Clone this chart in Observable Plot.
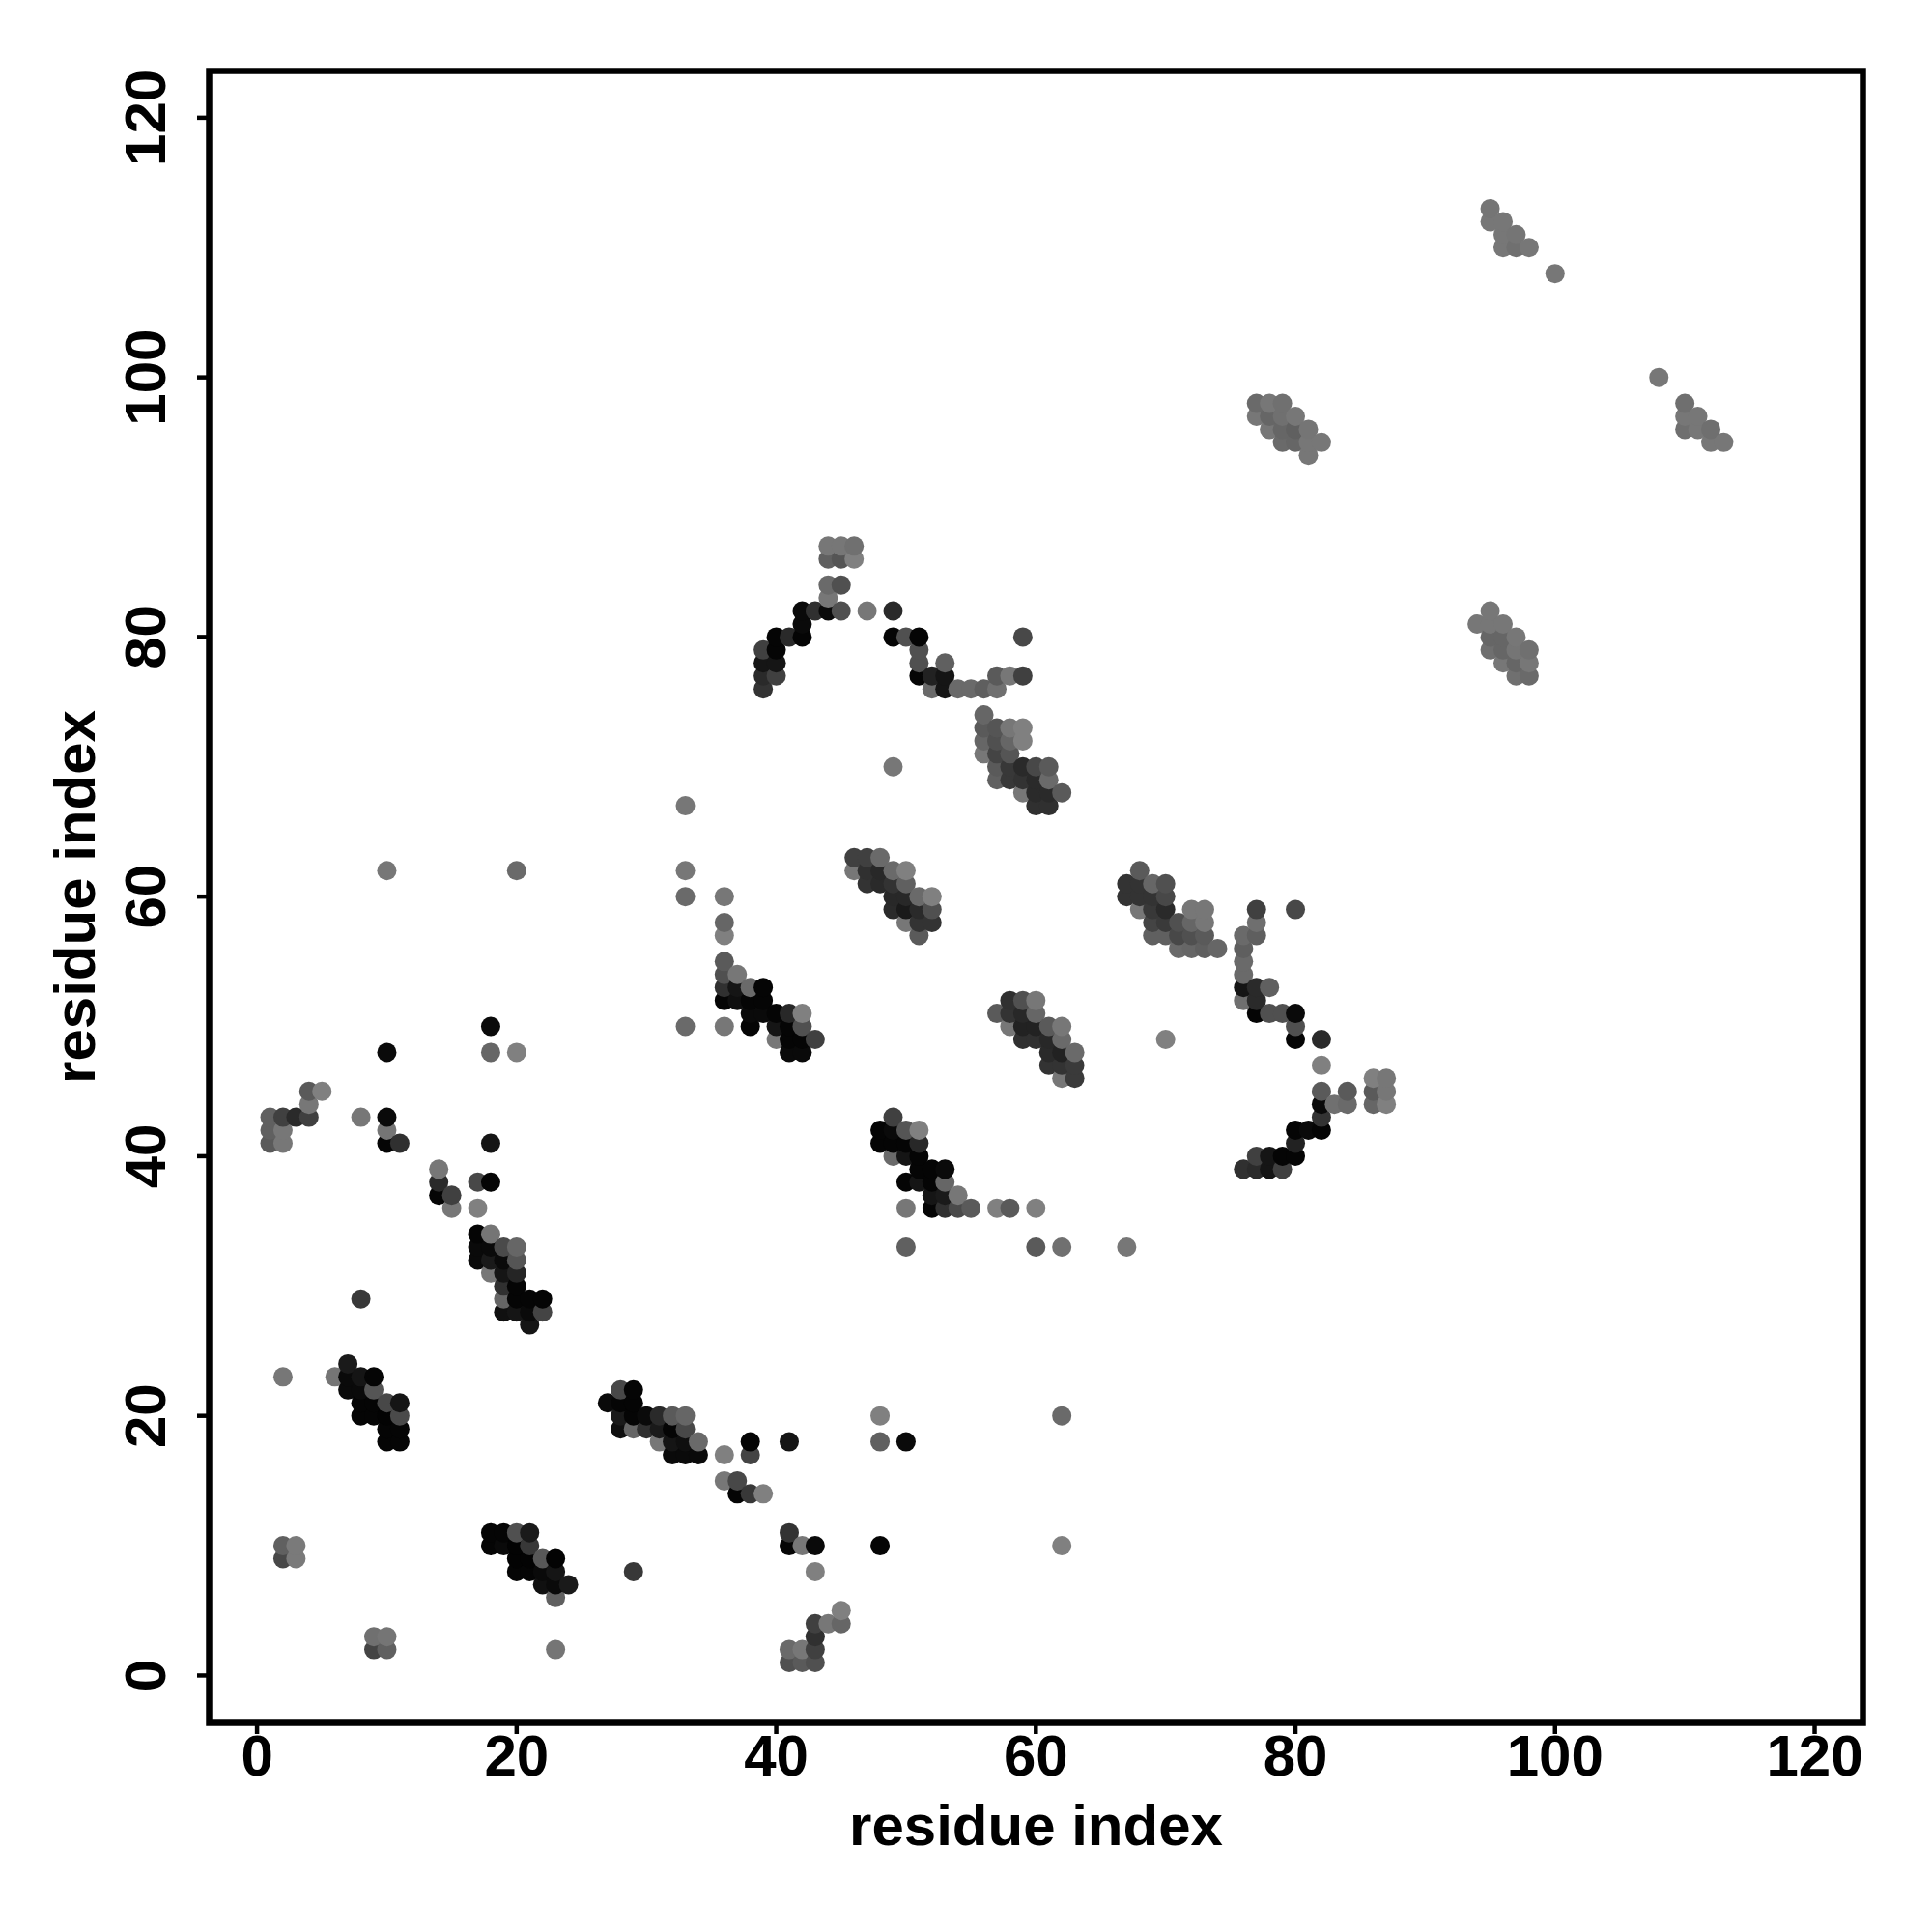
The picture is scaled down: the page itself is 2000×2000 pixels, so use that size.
<!DOCTYPE html>
<html>
<head>
<meta charset="utf-8">
<script src="https://cdn.jsdelivr.net/npm/d3@7"></script>
<script src="https://cdn.jsdelivr.net/npm/@observablehq/plot@0.6"></script>
<style>
html,body{margin:0;padding:0;background:#fff}
svg{display:block}
</style>
</head>
<body>
<div id="chart"></div>
<script>
// Each entry: [residue i, residue j, grey level 0-128]
const isolated = [
 [2,23,119],[8,29,56],[10,48,10],[18,50,10],[18,48,102],[20,48,128],[8,43,119],[10,43,10],[10,42,117],[10,41,5],[11,41,48],[18,41,21],
 [23,2,117],[29,8,56],[10,62,119],[20,62,106],[33,67,119],[33,62,119],[33,60,106],[36,60,119],[36,58,102],[36,57,128],[33,50,106],[36,50,119],
 [48,20,128],[62,20,106],[38,18,5],[41,18,21],[48,18,96],[50,18,10],[38,17,68],[36,17,128],
 [41,11,51],[41,10,5],[42,10,119],[43,10,10],[48,10,5],[62,10,128],[43,8,128],
 [50,33,96],[60,33,90],[62,33,112],[67,33,119],[50,36,119],[57,36,128],[58,36,90],[60,36,128],
 [49,70,119],[70,49,128],[59,80,72],[80,59,72],[108,100,119],[100,108,119]
];
const blockA = [
 [9,2,68],[10,2,96],[9,3,112],[10,3,117],[2,9,72],[2,10,96],[3,9,122],[3,10,122],
 [1,43,96],[2,43,64],[3,43,42],[4,43,64],[1,42,96],[2,42,119],[1,41,90],[2,41,119],[4,45,90],[5,45,128],[4,44,119],
 [14,39,119],[14,38,42],[17,38,72],[18,38,5],[14,37,5],[15,37,64],[15,36,119],[17,36,128]
];
const blockB = [
 [18,11,5],[19,11,5],[20,11,80],[21,11,26],[18,10,5],[19,10,10],[20,10,3],[21,10,56],
 [20,9,3],[21,9,3],[22,9,88],[23,9,3],[20,8,5],[21,8,5],[22,8,10],[23,8,21],
 [22,7,16],[23,7,10],[24,7,26],[23,6,96]
];
const blockC = [
 [7,24,26],[6,23,117],[7,23,10],[8,23,21],[9,23,5],[7,22,10],[8,22,10],[9,22,85],
 [8,21,5],[9,21,5],[10,21,72],[11,21,21],[8,20,5],[9,20,5],[10,20,3],[11,20,74],
 [10,19,5],[11,19,5],[10,18,5],[11,18,5]
];
const blockD = [
 [17,34,5],[18,34,117],[17,33,10],[18,33,10],[19,33,74],[20,33,102],
 [17,32,10],[18,32,26],[19,32,10],[20,32,85],[18,31,119],[19,31,21],[20,31,37],
 [19,30,48],[20,30,5],[19,29,102],[20,29,5],[21,29,5],[22,29,5],
 [19,28,16],[20,28,21],[21,28,10],[22,28,68],[21,27,21]
];
const blockE = [
 [28,22,72],[29,22,5],[27,21,10],[28,21,5],[29,21,5],
 [28,20,26],[29,20,5],[30,20,10],[31,20,42],[32,20,90],[33,20,102],
 [28,19,15],[29,19,102],[30,19,48],[31,19,26],[32,19,5],[33,19,72],
 [31,18,119],[32,18,21],[33,18,15],[34,18,106],[32,17,10],[33,17,10],[34,17,10],
 [36,15,119],[37,15,72],[37,14,5],[38,14,56],[39,14,128]
];
const blockF = [
 [45,5,128],[43,4,64],[44,4,119],[45,4,102],[43,3,48],[41,2,106],[42,2,119],[43,2,64],[41,1,80],[42,1,90],[43,1,80]
];
const blockG = [
 [36,55,90],[36,54,80],[37,54,119],[36,53,48],[37,53,21],[38,53,106],[39,53,5],
 [36,52,5],[37,52,15],[38,52,5],[39,52,5],[38,51,10],[39,51,10],[40,51,5],[41,51,40],[42,51,128],
 [38,50,5],[40,50,21],[41,50,5],[42,50,80],[40,49,119],[41,49,5],[42,49,5],[43,49,64],[41,48,10],[42,48,10]
];
const blockH = [
 [49,43,64],[48,42,5],[49,42,10],[50,42,85],[51,42,128],[48,41,5],[49,41,5],[50,41,5],[51,41,40],
 [49,40,106],[50,40,21],[51,40,5],[51,39,5],[52,39,5],[53,39,10],[50,38,5],[51,38,21],[52,38,5],[53,38,102],
 [52,37,21],[53,37,26],[54,37,119],[52,36,5],[53,36,48],[54,36,74],[55,36,90]
];
const blockI = [
 [46,63,64],[47,63,64],[48,63,106],[46,62,119],[47,62,48],[48,62,40],[49,62,106],[50,62,128],
 [47,61,51],[48,61,42],[49,61,51],[50,61,96],[49,60,40],[50,60,40],[51,60,106],[52,60,128],
 [49,59,42],[50,59,26],[51,59,42],[52,59,80],[50,58,119],[51,58,51],[52,58,51],[51,57,90]
];
const blockJ = [
 [58,52,48],[59,52,80],[60,52,119],[57,51,90],[58,51,51],[59,51,40],[60,51,102],
 [58,50,119],[59,50,34],[60,50,34],[61,50,90],[62,50,119],[59,49,48],[60,49,48],[61,49,40],[62,49,106],
 [61,48,42],[62,48,34],[63,48,106],[61,47,51],[62,47,51],[63,47,58],[62,46,119],[63,46,58]
];
const blockK = [
 [44,87,119],[45,87,119],[46,87,112],[44,86,96],[45,86,85],[46,86,128],[44,84,106],[45,84,80],[44,83,119],
 [42,82,10],[43,82,48],[44,82,10],[45,82,80],[47,82,119],[49,82,42],[42,81,10],
 [40,80,5],[41,80,42],[42,80,5],[39,79,64],[40,79,5],[39,78,21],[40,78,21],[39,77,42],[40,77,64],[39,76,51],
 [49,80,5],[50,80,80],[51,80,5],[51,79,80],[51,78,80],[53,78,96],[51,77,5],[52,77,34],[53,77,21],
 [57,77,90],[58,77,119],[59,77,64],[52,76,106],[53,76,21],[54,76,106],[55,76,106],[56,76,95],[57,76,112]
];
const blockL = [
 [56,74,102],[56,73,90],[57,73,85],[58,73,119],[59,73,128],[56,72,102],[57,72,80],[58,72,102],[59,72,128],
 [56,71,119],[57,71,68],[58,71,85],[57,70,90],[58,70,56],[59,70,42],[60,70,72],[61,70,90],
 [57,69,96],[58,69,56],[59,69,51],[60,69,42],[61,69,106],[59,68,119],[60,68,42],[61,68,42],[62,68,90],[60,67,48],[61,67,48]
];
const blockM = [
 [68,62,90],[67,61,51],[68,61,51],[69,61,102],[70,61,80],[67,60,51],[68,60,51],[69,60,51],[70,60,72],
 [68,59,119],[69,59,56],[70,59,42],[72,59,119],[73,59,119],[69,58,68],[70,58,58],[71,58,80],[72,58,102],[73,58,119],
 [69,57,96],[70,57,96],[71,57,72],[72,57,80],[73,57,90],[71,56,106],[72,56,102],[73,56,95],[74,56,102]
];
const blockN = [
 [77,59,64],[77,58,111],[76,57,106],[77,57,95],[76,56,95],[76,55,106],[76,54,106],
 [76,53,21],[77,53,42],[78,53,96],[76,52,111],[77,52,42],[77,51,5],[78,51,80],[79,51,80],[80,51,10],
 [80,50,80],[80,49,5],[82,49,42],[82,47,128],[86,46,128],[87,46,119],[82,45,90],[84,45,90],[86,45,90],[87,45,119],
 [82,44,10],[83,44,112],[84,44,106],[86,44,102],[87,44,128],[82,43,51],[80,42,5],[81,42,10],[82,42,5],[80,41,34],
 [77,40,64],[78,40,21],[79,40,5],[80,40,5],[76,39,48],[77,39,42],[78,39,21],[79,39,64]
];
const blockO = [
 [77,98,106],[78,98,119],[79,98,112],[77,97,119],[78,97,102],[79,97,112],[80,97,119],
 [78,96,119],[79,96,102],[80,96,96],[81,96,117],[79,95,106],[80,95,102],[81,95,119],[82,95,119],[81,94,119]
];
const blockP = [
 [110,98,111],[110,97,119],[111,97,119],[110,96,111],[111,96,119],[112,96,111],[112,95,119],[113,95,119]
];
const blockQ = [
 [95,82,119],[94,81,119],[95,81,119],[96,81,119],[95,80,102],[96,80,102],[97,80,119],
 [95,79,111],[96,79,102],[97,79,117],[98,79,112],[96,78,119],[97,78,102],[98,78,119],[97,77,112],[98,77,106]
];
const blockR = [
 [95,113,117],[95,112,119],[96,112,119],[96,111,119],[97,111,117],[96,110,119],[97,110,112],[98,110,119]
];
const tickValues = [0, 20, 40, 60, 80, 100, 120];
const axisTitle = "residue index";

const contacts = d3.sort(
  [isolated, blockA, blockB, blockC, blockD, blockE, blockF, blockG, blockH, blockI,
   blockJ, blockK, blockL, blockM, blockN, blockO, blockP, blockQ, blockR].flat(),
  d => d[0], d => d[1]
);

const font = "'Liberation Sans', Arial, sans-serif";
const chart = Plot.plot({
  width: 2000, height: 2000,
  marginLeft: 216, marginRight: 72, marginTop: 73, marginBottom: 217,
  style: {fontFamily: font, background: "#fff"},
  x: {domain: [-3.69, 123.72], ticks: tickValues},
  y: {domain: [-3.65, 123.6], ticks: tickValues},
  color: {type: "linear", domain: [0, 128], range: ["#000000", "#808080"]},
  marks: [
    Plot.dot(contacts, {x: d => d[0], y: d => d[1], fill: d => d[2], r: 10, stroke: "none"}),
    Plot.frame({stroke: "#000", strokeWidth: 6.5}),
    Plot.axisX({ticks: tickValues, tickSize: 12, tickPadding: 0, strokeWidth: 4.5, fontSize: 60, fontWeight: "bold",
      label: null, tickFormat: d => d, color: "#000"}),
    Plot.axisY({ticks: tickValues, tickSize: 12, tickPadding: 34, strokeWidth: 4.5, fontSize: 60, fontWeight: "bold",
      tickRotate: -90, label: null, tickFormat: d => d, color: "#000"}),
    Plot.text([axisTitle], {frameAnchor: "bottom", dy: 126, text: d => d, fontSize: 60, fontWeight: "bold", fill: "#000"}),
    Plot.text([axisTitle], {frameAnchor: "left", textAnchor: "middle", dx: -138, rotate: -90, text: d => d, fontSize: 60, fontWeight: "bold", fill: "#000"})
  ]
});
document.getElementById("chart").append(chart);
</script>
</body>
</html>
